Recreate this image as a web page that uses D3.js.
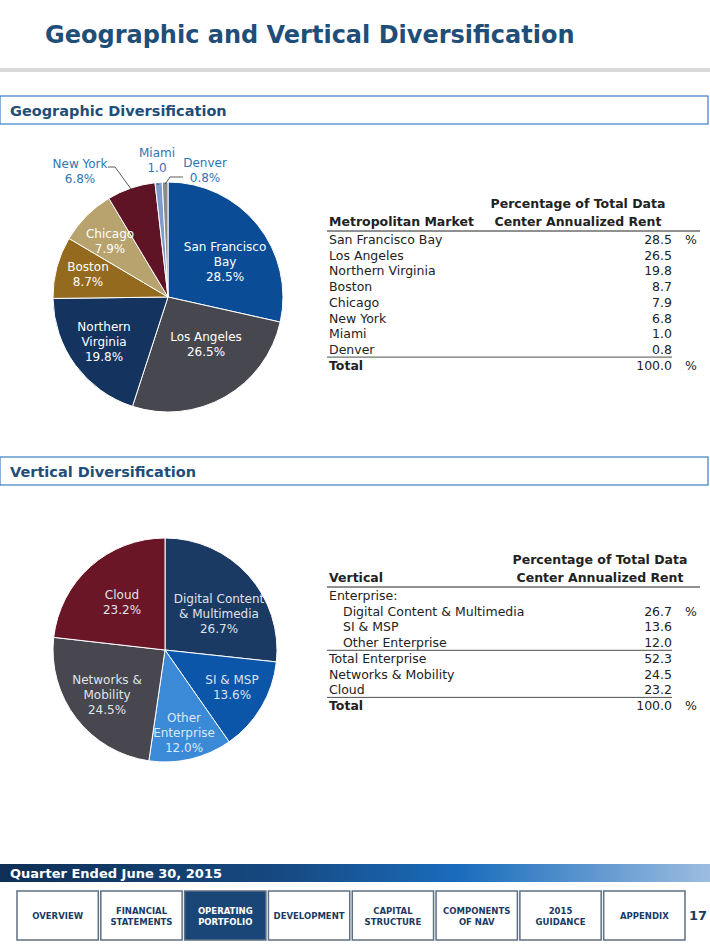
<!DOCTYPE html>
<html><head><meta charset="utf-8">
<script src="https://cdn.jsdelivr.net/npm/d3@7"></script>
<style>body{margin:0;background:#fff}svg{font-family:Verdana,"DejaVu Sans",sans-serif}</style>
</head><body>
<script>
var geoMarkets = ["San Francisco Bay","Los Angeles","Northern Virginia","Boston","Chicago","New York","Miami","Denver"];
var geoValues = [28.5,26.5,19.8,8.7,7.9,6.8,1.0,0.8];
var geoColors = ["#0b4c96","#47474f","#14335e","#946a1f","#b8a36e","#5e1424","#7f9ccc","#8a8a8a"];
var vertNames = ["Digital Content & Multimedia","SI & MSP","Other Enterprise","Networks & Mobility","Cloud"];
var vertValues = [26.7,13.6,12.0,24.5,23.2];
var vertColors = ["#1a3a63","#0b56a8","#3a8ad8","#48474f","#6a1626"];
var navItems = [["OVERVIEW"],["FINANCIAL","STATEMENTS"],["OPERATING","PORTFOLIO"],["DEVELOPMENT"],["CAPITAL","STRUCTURE"],["COMPONENTS","OF NAV"],["2015","GUIDANCE"],["APPENDIX"]];

var svg = d3.select("body").append("svg").attr("width",710).attr("height",946);
var blue = "#1f4e79";

svg.append("text").attr("x",45).attr("y",43).attr("fill",blue).attr("font-size",24).attr("font-weight","bold").text("Geographic and Vertical Diversification");
svg.append("rect").attr("x",0).attr("y",68).attr("width",710).attr("height",4).attr("fill","#d9d9d9");

function sectionBar(y, label){
  svg.append("rect").attr("x",0).attr("y",y).attr("width",708).attr("height",28).attr("fill","#fff").attr("stroke","#3a7fc1").attr("stroke-width",1.2);
  svg.append("text").attr("x",10).attr("y",y+20).attr("fill",blue).attr("font-size",14.5).attr("font-weight","bold").text(label);
}
sectionBar(96,"Geographic Diversification");
sectionBar(457,"Vertical Diversification");

function drawPie(cx, cy, r, vals, colors){
  var pie = d3.pie().sort(null).value(function(d){return d;});
  var arcs = pie(vals);
  var arc = d3.arc().innerRadius(0).outerRadius(r);
  var g = svg.append("g").attr("transform","translate("+cx+","+cy+")");
  g.selectAll("path").data(arcs).enter().append("path")
    .attr("d",arc).attr("fill",function(d,i){return colors[i];}).attr("stroke","#fff").attr("stroke-width",1);
  return {g:g, arcs:arcs, r:r};
}

function label(g, x, y, lines, color){
  var t = g.append("text").attr("text-anchor","middle").attr("fill",color).attr("font-size",12);
  lines.forEach(function(l,i){ t.append("tspan").attr("x",x).attr("y",y+i*15).text(l); });
}

// Geographic pie
var p1 = drawPie(168,297,115,geoValues,geoColors);
var geoLbl = [["San Francisco","Bay","28.5%"],["Los Angeles","26.5%"],["Northern","Virginia","19.8%"],["Boston","8.7%"],["Chicago","7.9%"]];
var geoPos = [[57,-46],[38,44],[-64,34],[-80,-26],[-58,-59]];
geoLbl.forEach(function(l,i){ label(p1.g, geoPos[i][0], geoPos[i][1], l, "#fff"); });
var outer = "#2f74b5";
label(svg, 80, 168, ["New York","6.8%"], outer);
label(svg, 157, 157, ["Miami","1.0"], outer);
label(svg, 205, 167, ["Denver","0.8%"], outer);
function leader(a, pts){
  var ang=(a.startAngle+a.endAngle)/2;
  var ex = 168+Math.sin(ang)*113, ey = 297-Math.cos(ang)*113;
  svg.append("polyline").attr("points",pts.concat([[ex,ey]]).map(function(p){return p.join(",");}).join(" ")).attr("fill","none").attr("stroke","#333").attr("stroke-width",0.8);
}
leader(p1.arcs[5],[[108,167],[115,167]]);
leader(p1.arcs[6],[[157,184]]);
leader(p1.arcs[7],[[183,177],[170,177]]);

// Vertical pie
var p2 = drawPie(165,650,112,vertValues,vertColors);
var vLbl = [["Digital Content","& Multimedia","26.7%"],["SI & MSP","13.6%"],["Other","Enterprise","12.0%"],["Networks &","Mobility","24.5%"],["Cloud","23.2%"]];
var vPos = [[54,-47],[67,34],[19,72],[-58,34],[-43,-51]];
vLbl.forEach(function(l,i){ label(p2.g, vPos[i][0], vPos[i][1], l, i==2?"#dde8f5":"#dfe3ea"); });

// Tables
function table(x0, x1, hx, yHead, head1, head2, rows){
  [0,1].forEach(function(k){
    svg.append("text").attr("x",hx).attr("y",yHead+k*18).attr("text-anchor","middle").attr("font-size",12.5).attr("font-weight","bold").attr("fill","#222").text(head2[k]);
  });
  svg.append("text").attr("x",x0).attr("y",yHead+18).attr("font-size",12.5).attr("font-weight","bold").attr("fill","#222").text(head1);
  svg.append("line").attr("x1",x0-2).attr("x2",x1).attr("y1",yHead+23).attr("y2",yHead+23).attr("stroke","#222");
  rows.forEach(function(r,i){
    var y = yHead+36+i*15.7;
    svg.append("text").attr("x",x0+(r.indent?14:0)).attr("y",y).attr("font-size",12.5).attr("fill","#222").attr("font-weight",r.bold?"bold":null).text(r.name);
    if(r.value!=null) svg.append("text").attr("x",x1-28).attr("y",y).attr("text-anchor","end").attr("font-size",12.5).attr("fill","#222").text(r.value.toFixed(1));
    if(r.pct) svg.append("text").attr("x",x1-15).attr("y",y).attr("font-size",12.5).attr("fill","#222").text("%");
    if(r.lineAbove) svg.append("line").attr("x1",x0-2).attr("x2",x1-28).attr("y1",y-12.5).attr("y2",y-12.5).attr("stroke","#222").attr("stroke-width",0.8);
  });
}
var geoRows = geoMarkets.map(function(m,i){return {name:m,value:geoValues[i],pct:i==0};});
geoRows.push({name:"Total",value:100.0,bold:true,pct:true,lineAbove:true});
table(329,700,578,208,"Metropolitan Market",["Percentage  of Total Data","Center Annualized Rent"],geoRows);

var vRows = [{name:"Enterprise:"}];
[0,1,2].forEach(function(i){vRows.push({name:vertNames[i],value:vertValues[i],indent:true,pct:i==0});});
vRows.push({name:"Total Enterprise",value:52.3,lineAbove:true});
vRows.push({name:vertNames[3],value:vertValues[3]});
vRows.push({name:vertNames[4],value:vertValues[4]});
vRows.push({name:"Total",value:100.0,bold:true,pct:true,lineAbove:true});
table(329,700,600,564,"Vertical",["Percentage  of Total Data","Center Annualized Rent"],vRows);

// Footer band
var grad = svg.append("defs").append("linearGradient").attr("id","band");
grad.append("stop").attr("offset","0%").attr("stop-color","#0f2f55");
grad.append("stop").attr("offset","40%").attr("stop-color","#164a82");
grad.append("stop").attr("offset","65%").attr("stop-color","#1a6dbd");
grad.append("stop").attr("offset","100%").attr("stop-color","#9cbde0");
svg.append("rect").attr("x",0).attr("y",864).attr("width",710).attr("height",18).attr("fill","url(#band)");
svg.append("text").attr("x",10).attr("y",878).attr("fill","#fff").attr("font-size",13).attr("font-weight","bold").text("Quarter Ended June 30, 2015");

var nx = d3.scaleBand().domain(d3.range(navItems.length)).range([17,685]).paddingInner(0.03);
navItems.forEach(function(n,i){
  var sel = i==2;
  svg.append("rect").attr("x",nx(i)).attr("y",891).attr("width",nx.bandwidth()).attr("height",49)
    .attr("fill",sel?"#1a4677":"#fff").attr("stroke","#5d6f82").attr("stroke-width",1.5);
  var t = svg.append("text").attr("text-anchor","middle").attr("font-size",8.5).attr("font-weight","bold").attr("fill",sel?"#fff":"#1a3a63");
  n.forEach(function(s,k){ t.append("tspan").attr("x",nx(i)+nx.bandwidth()/2).attr("y",919+(k-(n.length-1)/2)*11).text(s); });
});
svg.append("text").attr("x",698).attr("y",920).attr("text-anchor","middle").attr("font-size",13).attr("font-weight","bold").attr("fill","#1a3a63").text("17");
</script>
</body></html>
